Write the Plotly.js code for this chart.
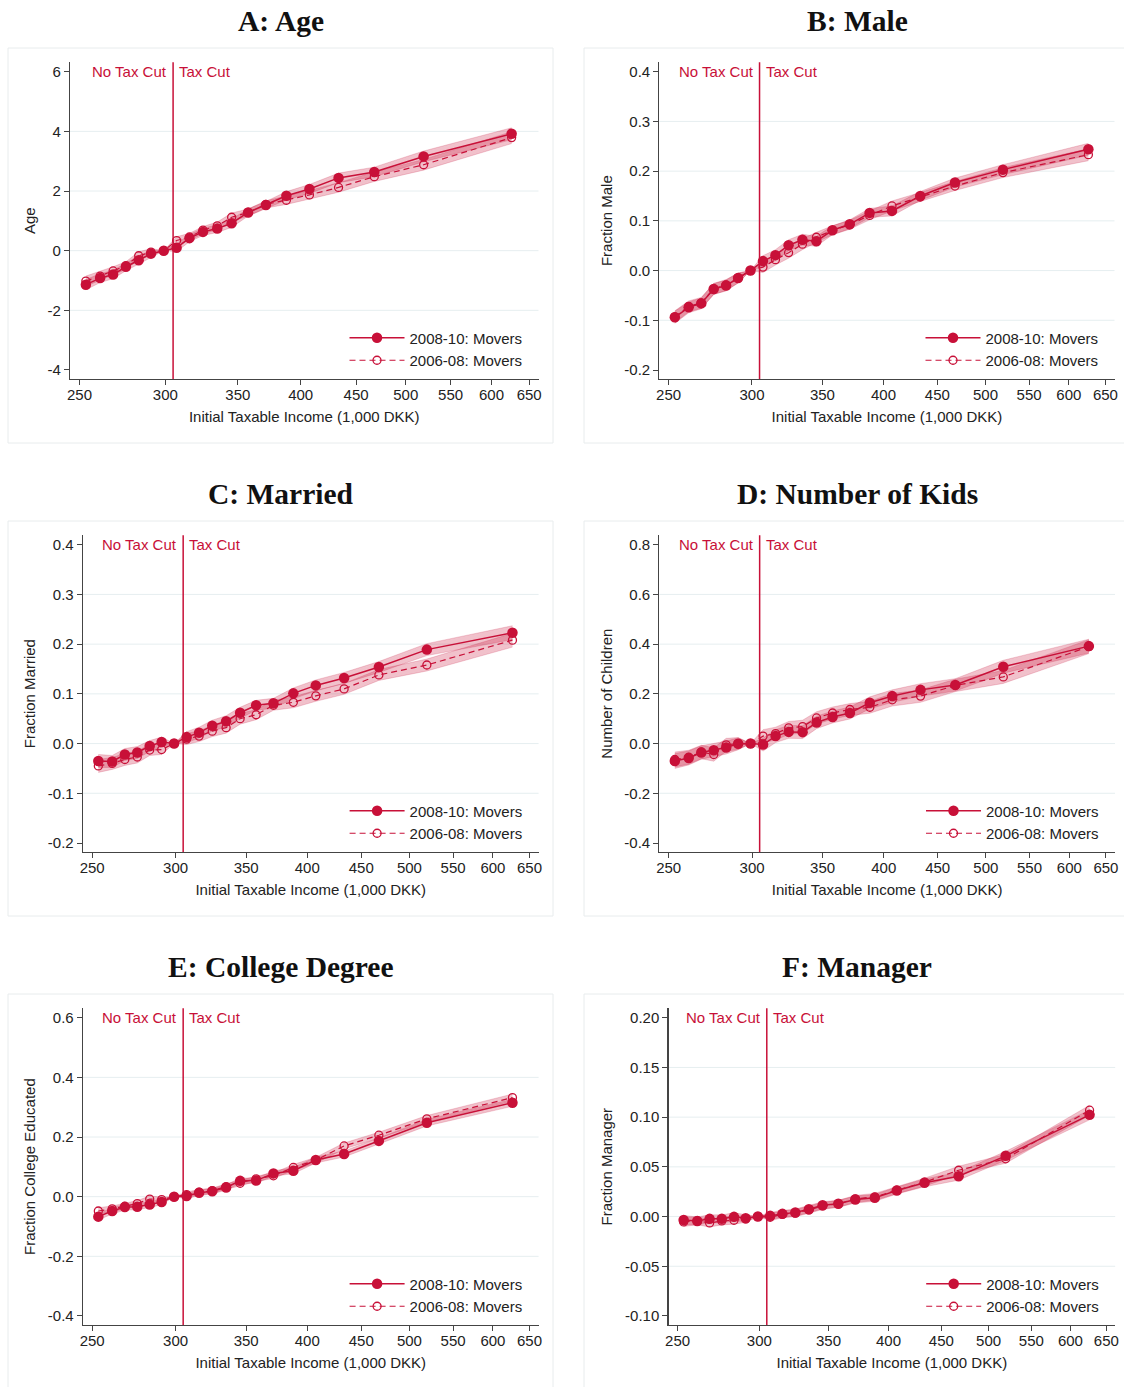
<!DOCTYPE html>
<html><head><meta charset="utf-8">
<script src="https://cdn.plot.ly/plotly-3.0.1.min.js"></script>
<style>html,body{margin:0;padding:0;background:#fff}#chart{width:1124px;height:1387px}</style>
</head><body><div id="chart"></div>
<script>
// ---------------- DATA ----------------
const income = [253.4, 261.2, 268.5, 275.9, 283.5, 291.0, 299.0, 307.3, 315.8, 325.0, 335.0, 345.4, 357.7, 371.5, 388.0, 407.5, 433.5, 467.7, 519.4, 626.2];
const threshold = 305;
const xTickVals = [250, 300, 350, 400, 450, 500, 550, 600, 650];
const seriesNames = ["2008-10: Movers", "2006-08: Movers"];
const panelTitles = ["A: Age", "B: Male", "C: Married", "D: Number of Kids", "E: College Degree", "F: Manager"];
const yTitles = ["Age", "Fraction Male", "Fraction Married", "Number of Children", "Fraction College Educated", "Fraction Manager"];
const xTitle = "Initial Taxable Income (1,000 DKK)";

const age0810 = [-1.14, -0.92, -0.80, -0.54, -0.32, -0.10, 0, 0.10, 0.42, 0.63, 0.74, 0.92, 1.28, 1.53, 1.84, 2.07, 2.44, 2.64, 3.16, 3.92];
const age0608 = [-1.02, -0.85, -0.68, -0.50, -0.17, -0.05, 0, 0.34, 0.46, 0.69, 0.83, 1.12, 1.28, 1.55, 1.69, 1.87, 2.12, 2.48, 2.88, 3.79];
const ageCI = [0.17, 0.15, 0.14, 0.13, 0.13, 0.12, 0, 0.13, 0.12, 0.12, 0.13, 0.14, 0.12, 0.12, 0.14, 0.15, 0.16, 0.16, 0.18, 0.20];

const male0810 = [-0.094, -0.074, -0.066, -0.037, -0.030, -0.015, 0, 0.019, 0.031, 0.051, 0.062, 0.059, 0.081, 0.093, 0.116, 0.120, 0.150, 0.177, 0.203, 0.244];
const male0608 = [-0.093, -0.072, -0.065, -0.037, -0.029, -0.015, 0, 0.007, 0.022, 0.036, 0.053, 0.067, 0.081, 0.092, 0.111, 0.130, 0.148, 0.170, 0.197, 0.233];
const maleCI = [0.012, 0.011, 0.011, 0.011, 0.011, 0.010, 0, 0.011, 0.011, 0.011, 0.011, 0.010, 0.009, 0.009, 0.009, 0.010, 0.009, 0.009, 0.010, 0.012];

const married0810 = [-0.035, -0.036, -0.022, -0.018, -0.005, 0.003, 0, 0.013, 0.022, 0.036, 0.045, 0.062, 0.077, 0.081, 0.101, 0.117, 0.132, 0.154, 0.189, 0.223];
const married0608 = [-0.045, -0.040, -0.032, -0.027, -0.013, -0.012, 0, 0.009, 0.015, 0.025, 0.032, 0.050, 0.058, 0.077, 0.083, 0.096, 0.110, 0.138, 0.158, 0.208];
const marriedCI = [0.013, 0.012, 0.012, 0.012, 0.011, 0.010, 0, 0.011, 0.011, 0.011, 0.011, 0.011, 0.010, 0.010, 0.011, 0.011, 0.011, 0.011, 0.012, 0.014];

const kids0810 = [-0.070, -0.058, -0.036, -0.027, -0.016, -0.001, 0, -0.004, 0.030, 0.047, 0.046, 0.085, 0.107, 0.123, 0.164, 0.191, 0.216, 0.236, 0.309, 0.392];
const kids0608 = [-0.064, -0.055, -0.034, -0.044, -0.005, 0.000, 0, 0.030, 0.040, 0.063, 0.068, 0.103, 0.123, 0.137, 0.146, 0.176, 0.191, 0.234, 0.268, 0.390];
const kidsCI = [0.030, 0.028, 0.027, 0.027, 0.026, 0.024, 0, 0.026, 0.026, 0.026, 0.026, 0.025, 0.024, 0.024, 0.024, 0.025, 0.025, 0.025, 0.026, 0.028];

const college0810 = [-0.067, -0.048, -0.035, -0.034, -0.026, -0.018, 0, 0.002, 0.013, 0.018, 0.031, 0.053, 0.054, 0.078, 0.087, 0.123, 0.143, 0.187, 0.248, 0.315];
const college0608 = [-0.048, -0.041, -0.032, -0.023, -0.008, -0.010, 0, 0.007, 0.015, 0.020, 0.034, 0.045, 0.060, 0.070, 0.098, 0.122, 0.170, 0.206, 0.261, 0.332];
const collegeCI = [0.011, 0.010, 0.010, 0.010, 0.010, 0.009, 0, 0.009, 0.009, 0.009, 0.009, 0.009, 0.009, 0.009, 0.010, 0.010, 0.010, 0.010, 0.011, 0.012];

const manager0810 = [-0.0034, -0.0044, -0.0023, -0.0023, -0.0003, -0.0017, 0, 0.0007, 0.0027, 0.0040, 0.0074, 0.0114, 0.0128, 0.0171, 0.0188, 0.0262, 0.0339, 0.0406, 0.0611, 0.1023];
const manager0608 = [-0.0054, -0.0044, -0.0064, -0.0044, -0.0037, -0.0023, 0, -0.0007, 0.0023, 0.0034, 0.0067, 0.0107, 0.0128, 0.0178, 0.0198, 0.0265, 0.0346, 0.0466, 0.0581, 0.1070];
const managerCI = [0.0045, 0.004, 0.004, 0.004, 0.004, 0.0035, 0, 0.0035, 0.0035, 0.0035, 0.0035, 0.0035, 0.0035, 0.0035, 0.0035, 0.0035, 0.004, 0.004, 0.0045, 0.005];

const yTickValsA = [-4, -2, 0, 2, 4, 6];
const yTickTextA = ["-4", "-2", "0", "2", "4", "6"];
const yTickValsB = [-0.2, -0.1, 0, 0.1, 0.2, 0.3, 0.4];
const yTickTextB = ["-0.2", "-0.1", "0.0", "0.1", "0.2", "0.3", "0.4"];
const yTickValsD = [-0.4, -0.2, 0, 0.2, 0.4, 0.6, 0.8];
const yTickTextD = ["-0.4", "-0.2", "0.0", "0.2", "0.4", "0.6", "0.8"];
const yTickValsE = [-0.4, -0.2, 0, 0.2, 0.4, 0.6];
const yTickTextE = ["-0.4", "-0.2", "0.0", "0.2", "0.4", "0.6"];
const yTickValsF = [-0.10, -0.05, 0, 0.05, 0.10, 0.15, 0.20];
const yTickTextF = ["-0.10", "-0.05", "0.00", "0.05", "0.10", "0.15", "0.20"];

// ---------------- LAYOUT / STYLE ----------------
const W = 1124, H = 1387;
const RED = 'rgb(200,16,56)';
const BAND = 'rgba(200,16,56,0.26)';
const BANDLINE = 'rgba(200,16,56,0.32)';
const SANS = '"Liberation Sans", Arial, sans-serif';
const SERIF = '"Liberation Serif", "Times New Roman", serif';

const panels = [
  {s1: age0810, s2: age0608, ci: ageCI, tv: yTickValsA, tt: yTickTextA, yr: [-4.302, 6.315], px: [70, 538.5], row: 0, box: [8, 553]},
  {s1: male0810, s2: male0608, ci: maleCI, tv: yTickValsB, tt: yTickTextB, yr: [-0.2181, 0.4189], px: [659.4, 1114.5], row: 0, box: [584, 1130]},
  {s1: married0810, s2: married0608, ci: marriedCI, tv: yTickValsB, tt: yTickTextB, yr: [-0.2181, 0.4189], px: [82.9, 538.6], row: 1, box: [8, 553]},
  {s1: kids0810, s2: kids0608, ci: kidsCI, tv: yTickValsD, tt: yTickTextD, yr: [-0.4362, 0.8378], px: [659.4, 1115], row: 1, box: [584, 1130]},
  {s1: college0810, s2: college0608, ci: collegeCI, tv: yTickValsE, tt: yTickTextE, yr: [-0.4302, 0.6315], px: [82.9, 538.6], row: 2, box: [8, 553]},
  {s1: manager0810, s2: manager0608, ci: managerCI, tv: yTickValsF, tt: yTickTextF, yr: [-0.1091, 0.2095], px: [668.5, 1115.2], row: 2, box: [584, 1130]}
];
const rowTop = [62.3, 535.3, 1008.3], rowBottom = [379, 852, 1325];
const boxTop = [48, 521, 994], boxBottom = [443, 916, 1389];
const titleY = [21, 494, 967];

const traces = [], shapes = [], annotations = [];
const layout = {
  width: W, height: H, margin: {l: 0, r: 0, t: 0, b: 0},
  paper_bgcolor: '#fff', plot_bgcolor: 'rgba(0,0,0,0)',
  font: {family: SANS, size: 15, color: '#222'},
  showlegend: true
};

panels.forEach((p, i) => {
  const n = i + 1;
  const xa = 'x' + (n === 1 ? '' : n), ya = 'y' + (n === 1 ? '' : n);
  const xk = 'xaxis' + (n === 1 ? '' : n), yk = 'yaxis' + (n === 1 ? '' : n);
  const lg = 'legend' + (n === 1 ? '' : n);
  const top = rowTop[p.row], bot = rowBottom[p.row];

  layout[xk] = {
    domain: [p.px[0] / W, p.px[1] / W], anchor: ya, type: 'log',
    range: [Math.log10(245), Math.log10(663)],
    tickvals: xTickVals, ticktext: xTickVals.map(String),
    ticks: 'outside', ticklen: 5, tickwidth: 1, tickcolor: '#444',
    ticklabelstandoff: -3,
    showline: true, linecolor: '#444', linewidth: 1.2, showgrid: false, zeroline: false,
    tickfont: {family: SANS, size: 15, color: '#222'},
    title: {text: xTitle, font: {family: SANS, size: 15, color: '#222'}, standoff: 9},
    fixedrange: true
  };
  layout[yk] = {
    domain: [1 - bot / H, 1 - top / H], anchor: xa, range: p.yr,
    tickvals: p.tv, ticktext: p.tt,
    ticks: 'outside', ticklen: 5, tickwidth: 1, tickcolor: '#444',
    showline: true, linecolor: '#444', linewidth: 1.2, showgrid: false, zeroline: false,
    tickfont: {family: SANS, size: 15, color: '#222'},
    title: {text: yTitles[i], font: {family: SANS, size: 15, color: '#222'}, standoff: 8},
    fixedrange: true
  };

  // gridlines at interior ticks
  p.tv.slice(1, -1).forEach(v => {
    shapes.push({type: 'line', xref: xa + ' domain', yref: ya, x0: 0, x1: 1, y0: v, y1: v,
      line: {color: '#e6eef0', width: 1}, layer: 'below'});
  });
  // panel outline box
  shapes.push({type: 'rect', xref: 'paper', yref: 'paper',
    x0: p.box[0] / W, x1: p.box[1] / W, y0: 1 - boxBottom[p.row] / H, y1: 1 - boxTop[p.row] / H,
    line: {color: '#e8eced', width: 1}, layer: 'below'});
  // threshold line
  shapes.push({type: 'line', xref: xa, yref: ya + ' domain', x0: threshold, x1: threshold, y0: 0, y1: 1,
    line: {color: RED, width: 1.5}});

  // confidence bands
  [p.s1, p.s2].forEach(s => {
    traces.push({x: income, y: s.map((v, k) => v + p.ci[k]), xaxis: xa, yaxis: ya, mode: 'lines',
      line: {color: BANDLINE, width: 0.6}, showlegend: false, hoverinfo: 'skip', legend: lg});
    traces.push({x: income, y: s.map((v, k) => v - p.ci[k]), xaxis: xa, yaxis: ya, mode: 'lines',
      line: {color: BANDLINE, width: 0.6}, fill: 'tonexty', fillcolor: BAND, showlegend: false, hoverinfo: 'skip', legend: lg});
  });
  // series
  traces.push({x: income, y: p.s2, xaxis: xa, yaxis: ya, mode: 'lines+markers', name: seriesNames[1],
    line: {color: RED, width: 1.2, dash: '6px,4px'},
    marker: {symbol: 'circle-open', size: 8, color: RED, line: {width: 1.3, color: RED}},
    legend: lg, legendrank: 2});
  traces.push({x: income, y: p.s1, xaxis: xa, yaxis: ya, mode: 'lines+markers', name: seriesNames[0],
    line: {color: RED, width: 1.5},
    marker: {symbol: 'circle', size: 10.5, color: RED},
    legend: lg, legendrank: 1});

  layout[lg] = {
    x: (p.px[1] - 194) / W, xanchor: 'left',
    y: 1 - (bot - 57.5) / H, yanchor: 'top',
    bgcolor: 'rgba(0,0,0,0)', borderwidth: 0,
    font: {family: SANS, size: 15, color: '#222'},
    itemwidth: 55, traceorder: 'normal', tracegroupgap: 0
  };

  // tax cut labels
  const ytop = p.tv[p.tv.length - 1];
  annotations.push({xref: xa, yref: ya, x: Math.log10(threshold), y: ytop, text: 'No Tax Cut',
    showarrow: false, xanchor: 'right', yanchor: 'middle', xshift: -4, font: {family: SANS, size: 15, color: RED}});
  annotations.push({xref: xa, yref: ya, x: Math.log10(threshold), y: ytop, text: 'Tax Cut',
    showarrow: false, xanchor: 'left', yanchor: 'middle', xshift: 4, font: {family: SANS, size: 15, color: RED}});
  // panel title
  annotations.push({xref: 'paper', yref: 'paper', x: (p.box[0] + p.box[1]) / 2 / W,
    y: 1 - titleY[p.row] / H, text: '<b>' + panelTitles[i] + '</b>', showarrow: false,
    xanchor: 'center', yanchor: 'middle', font: {family: SERIF, size: 29.5, color: '#111'}});
});

layout.shapes = shapes;
layout.annotations = annotations;
Plotly.newPlot('chart', traces, layout, {staticPlot: true, displayModeBar: false});
</script>
</body></html>
